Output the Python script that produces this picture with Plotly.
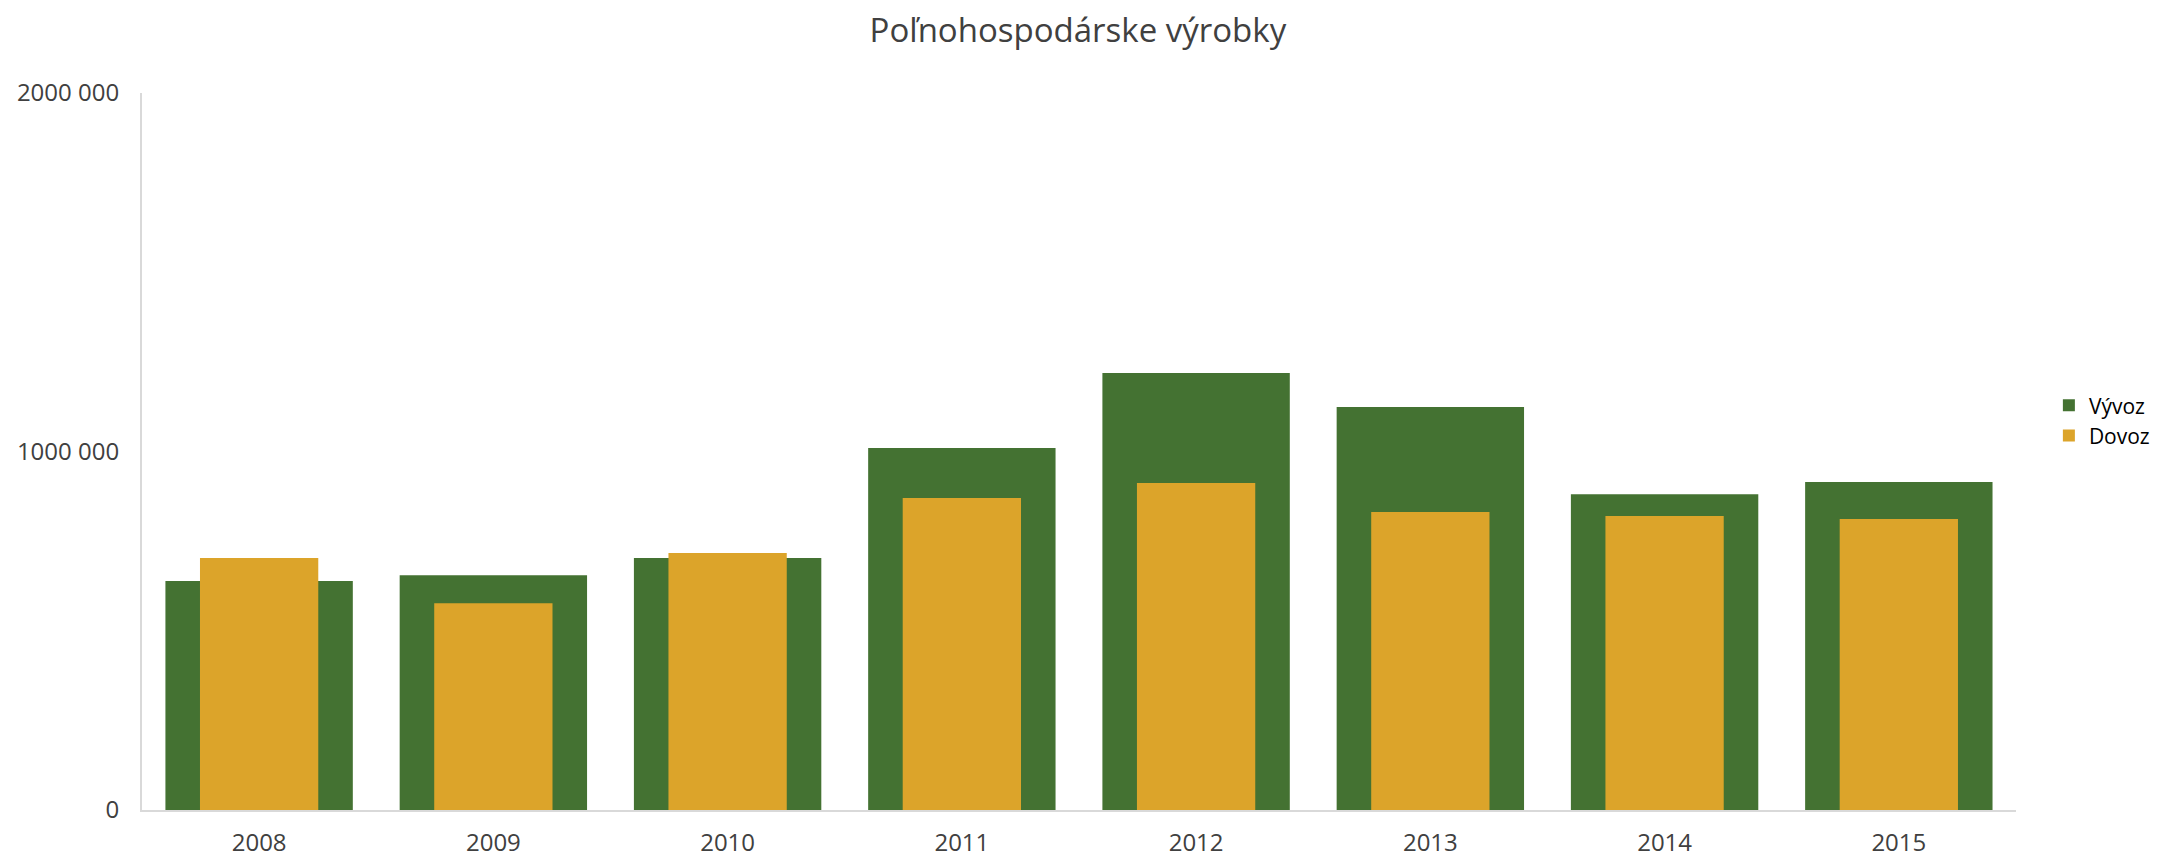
import plotly.graph_objects as go

years = ["2008", "2009", "2010", "2011", "2012", "2013", "2014", "2015"]
vyvoz = [639000, 655000, 703000, 1010000, 1219000, 1124000, 881000, 915000]
dovoz = [703000, 577000, 717000, 870000, 912000, 831000, 820000, 812000]
tick_vals = [0, 1000000, 2000000]
tick_text = ["0", "1000 000", "2000 000"]

GREEN = "#447232"
ORANGE = "#DCA42A"
FONT = "Open Sans"

fig = go.Figure()
fig.add_trace(go.Bar(x=years, y=vyvoz, name="Vývoz", marker=dict(color=GREEN, line=dict(width=0)), width=0.8))
fig.add_trace(go.Bar(x=years, y=dovoz, name="Dovoz", marker=dict(color=ORANGE, line=dict(width=0)), width=0.505))

fig.update_layout(
    width=2154, height=850,
    barmode="overlay",
    paper_bgcolor="white", plot_bgcolor="white",
    margin=dict(l=134, r=0, t=85, b=48, autoexpand=False),
    title=dict(text="Poľnohospodárske výrobky", x=0.4967, xanchor="center", y=0.974, yanchor="middle",
               font=dict(family=FONT, size=33, color="#404040")),
    font=dict(family=FONT, size=24, color="#404040"),
    xaxis=dict(type="category", domain=[0, 0.9277], showgrid=False, showline=True, linecolor="#D9D9D9",
               linewidth=2, ticks="", tickfont=dict(size=24, color="#404040"), zeroline=False,
               ticklabelstandoff=10),
    yaxis=dict(range=[0, 2000000], tickvals=tick_vals, ticktext=tick_text, showgrid=False,
               showline=True, linecolor="#D9D9D9", linewidth=2, ticks="", zeroline=False,
               ticklabelstandoff=16, tickfont=dict(size=24, color="#404040")),
    legend=dict(x=0.944, xanchor="left", y=0.543, yanchor="middle", font=dict(size=21, color="#000000"),
                tracegroupgap=0, traceorder="normal"),
    showlegend=True,
)

fig.write_html("out.html")
